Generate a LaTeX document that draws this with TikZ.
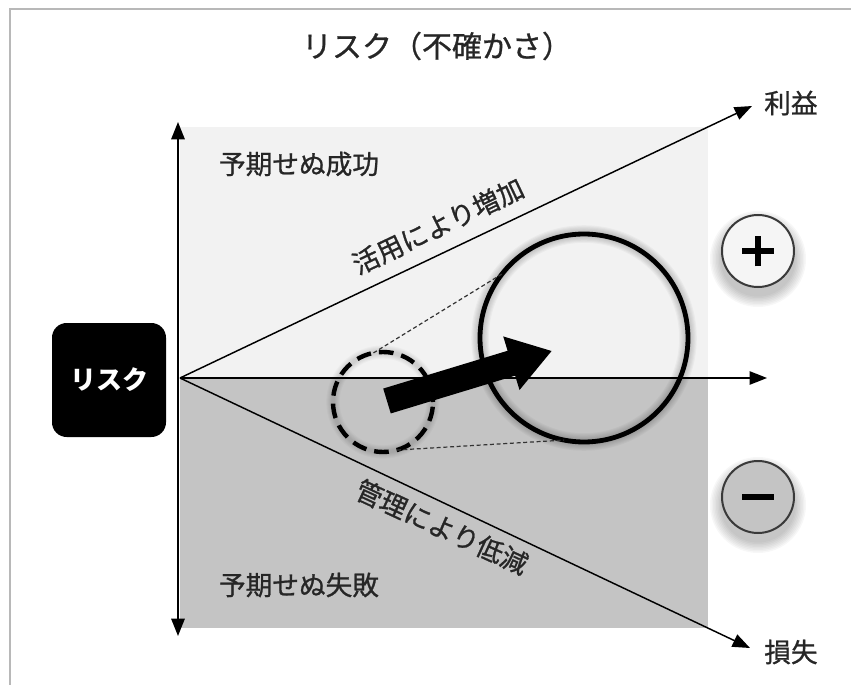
\documentclass[tikz,border=0pt]{standalone}
\usepackage{fontspec}
\newfontfamily\jp[FakeBold=0.9]{Noto Sans CJK JP}
\newfontfamily\jpb{Noto Sans CJK JP}
\usetikzlibrary{arrows.meta}
\definecolor{lightbg}{HTML}{F2F2F2}
\definecolor{darkbg}{HTML}{C4C4C4}
\definecolor{framegray}{HTML}{B8B8B8}
\definecolor{pmborder}{HTML}{3A3A3A}
\begin{document}
\begin{tikzpicture}[x=0.75pt,y=-0.75pt,
  tipstyle/.style={-{Triangle[length=13pt,width=10pt]}},
  axisline/.style={line width=1.1pt, black},
  lbl/.style={font=\jp\fontsize{20}{24}\selectfont, inner sep=0pt, text=black!85},
  titlestyle/.style={font=\jp\fontsize{22.5}{26}\selectfont, inner sep=0pt, text=black!85},
  riskbox/.style={fill=black, rounded corners=11pt, minimum width=85.5pt, minimum height=85.5pt, inner sep=0pt, text=white, font=\jpb\bfseries\fontsize{19.5}{23}\selectfont},
  bigcirc/.style={circle, draw=black, line width=3.6pt, minimum size=156pt, inner sep=0pt, outer sep=0pt},
  smallcirc/.style={circle, draw=black, line width=3.3pt, dash pattern=on 11pt off 6pt, minimum size=75pt, inner sep=0pt, outer sep=0pt},
  pmcircle/.style={circle, draw=pmborder, line width=1.5pt, minimum size=54pt, inner sep=0pt},
  tangent/.style={black!80, line width=0.9pt, dash pattern=on 3pt off 2pt},
  pmsign/.style={line width=4.5pt, black}
]
\useasboundingbox (0,0) rectangle (851,685);
% frame
\draw[framegray, line width=2.2pt] (10,685) -- (10,9) -- (851,9);
% regions
\fill[lightbg] (180,127) rectangle (708,378);
\fill[darkbg] (180,378) rectangle (708,628);
% title
\node[titlestyle] (title) at (437,46) {リスク（不確かさ）};
% risk box
\node[riskbox] (risk) at (109,380) {リスク};
% axes
\coordinate (O) at (180,378);
\coordinate (vtop) at (178,122);
\coordinate (vbot) at (178,636);
\coordinate (gain) at (752,106);
\coordinate (loss) at (750,648);
\coordinate (hend) at (767,378);
\draw[axisline, line width=1.5pt, {Triangle[length=13pt,width=10pt]}-{Triangle[length=13pt,width=10pt]}] (vtop) -- (vbot);
\draw[axisline, tipstyle] (O) -- (gain);
\draw[axisline, tipstyle] (O) -- (loss);
% glow of circles
\foreach \i in {1,...,6} {
  \draw[black, opacity=0.03, line width={3.6pt+1.6pt*\i}] (584,338) circle (104);
  \draw[black, opacity=0.025, line width={1pt+1.5pt*\i}] (383,402) circle (50);
}
\draw[axisline, tipstyle] (O) -- (hend);
% circles
\node[smallcirc] (small) at (383,402) {};
\node[bigcirc] (big) at (584,338) {};
\draw[tangent] (small.101) -- (big.142);
\draw[tangent] (small.-74) -- (big.-101);
% thick arrow
\begin{scope}[shift={(387,401)}, rotate=16.9]
\fill[black] (0,-13) -- (130,-13) -- (130,-28) -- (172,0) -- (130,28) -- (130,13) -- (0,13) -- cycle;
\end{scope}
% plus / minus circles with soft shadows
\foreach \i in {1,...,8} {
  \fill[black, opacity=0.03] (758,259) circle ({36+\i*1.5});
  \fill[black, opacity=0.03] (758,505) circle ({36+\i*1.5});
}
\node[pmcircle, fill=white!96!black] (plus) at (758,251) {};
\node[pmcircle, fill=darkbg] (minus) at (758,497) {};
\draw[pmsign] ([xshift=-12pt]plus.center) -- ([xshift=12pt]plus.center);
\draw[pmsign] ([yshift=-11.5pt]plus.center) -- ([yshift=11.5pt]plus.center);
\draw[pmsign] ([xshift=-12pt]minus.center) -- ([xshift=12pt]minus.center);
% labels
\node[lbl] (success) at (299,164) {予期せぬ成功};
\node[lbl] (failure) at (299,585) {予期せぬ失敗};
\node[lbl, anchor=west] (rieki) at (764,103) {利益};
\node[lbl, anchor=west] (sonshitsu) at (764,652) {損失};
\node[lbl, rotate=25.4] (katsuyo) at (438,226) {活用により増加};
\node[lbl, rotate=-24.8] (kanri) at (442,527) {管理により低減};
\end{tikzpicture}
\end{document}
